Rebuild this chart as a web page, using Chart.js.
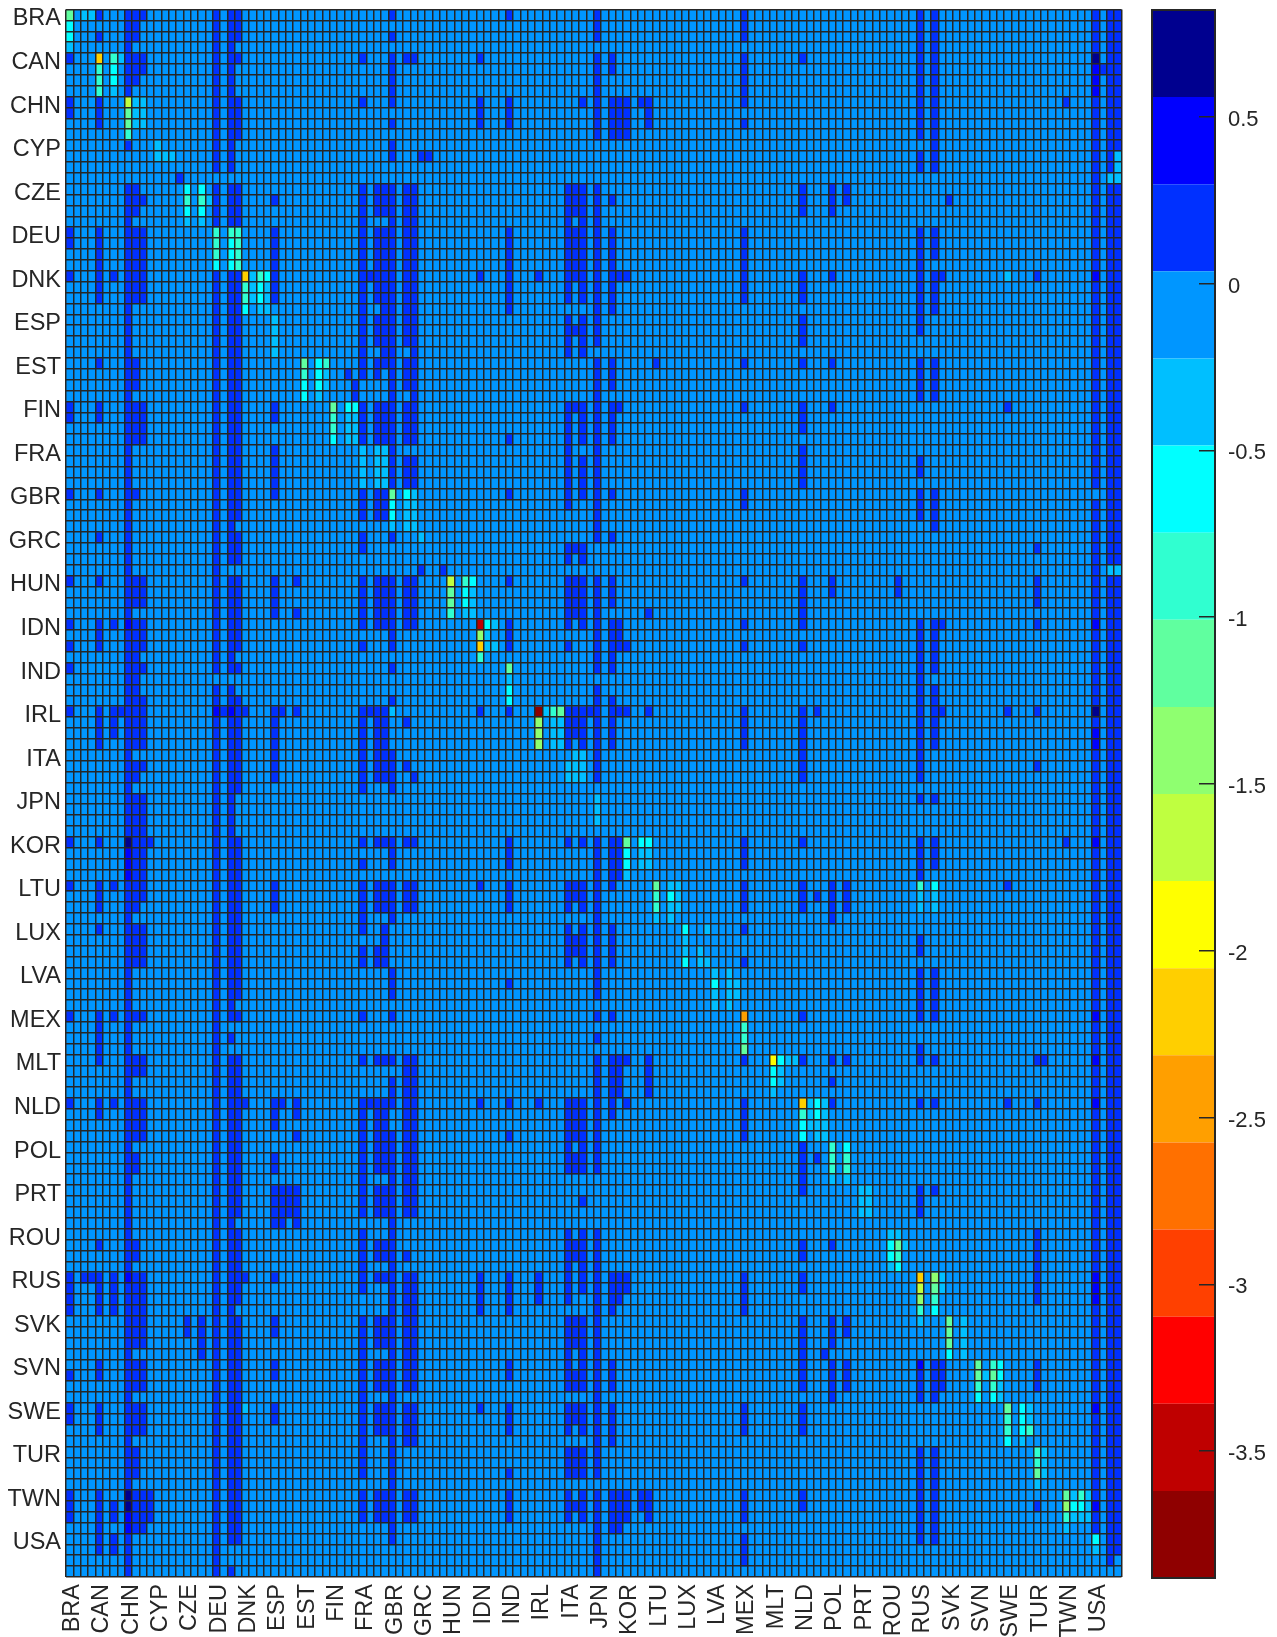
<!DOCTYPE html>
<html><head><meta charset="utf-8">
<style>html,body{margin:0;padding:0;background:#fff}canvas{position:absolute;top:0}</style>
<script src="https://cdn.jsdelivr.net/npm/chart.js@4"></script>
</head><body>
<canvas id="heat" style="left:0"></canvas>
<canvas id="bar" style="left:1130px"></canvas>
<script>
const categories=["BRA","CAN","CHN","CYP","CZE","DEU","DNK","ESP","EST","FIN","FRA","GBR","GRC","HUN","IDN","IND","IRL","ITA","JPN","KOR","LTU","LUX","LVA","MEX","MLT","NLD","POL","PRT","ROU","RUS","SVK","SVN","SWE","TUR","TWN","USA"];
const sectorsPerCountry=4;
const colorTicks=[0.5,0,-0.5,-1,-1.5,-2,-2.5,-3,-3.5];
const colorMin=-3.88, colorMax=0.82;
const bandColors=["#8f0000","#bf0000","#ff0000","#ff4000","#ff7000","#ff9f00","#ffcf00","#ffff00","#bfff40","#8fff70","#60ff9f","#30ffd0","#00ffff","#00bfff","#0096ff","#0030ff","#0000ff","#00008f"];
const baseValue=-0.1;
const positiveValue=0.15;
// columns holding a small positive value, one string per row
const positiveByRow=[
"4 8 9 10 20 22 23 44 60 72 92 116 118 140 142 143",
"8 9 20 22 23 72 92 116 118 140 142 143",
"4 8 9 20 22 23 44 72 92 116 118 140 142 143",
"8 20 22 116 118 140 142 143",
"0 8 9 10 20 22 23 40 44 46 47 56 72 74 92 100 116 118 142 143",
"8 9 10 20 22 44 72 74 92 116 118 141 142 143",
"8 9 20 22 44 72 92 116 118 142 143",
"8 20 22 44 72 92 116 118 142 143",
"0 4 20 22 23 40 44 56 60 70 72 74 75 76 78 79 92 116 118 136 140 142 143",
"0 4 20 22 23 56 60 72 74 75 76 79 116 118 140 142 143",
"4 20 22 23 44 56 60 72 74 75 76 79 92 116 118 140 142 143",
"20 22 23 72 74 75 76 116 118 140 142 143",
"8 20 22 44 118 140 142 143",
"20 22 44 48 49 116 118 140 142",
"20 22 116 118 140 142",
"15 140",
"8 9 20 22 23 40 42 43 44 46 47 68 69 70 72 100 104 106 140 142 143",
"8 9 10 20 22 23 28 40 42 43 44 46 47 68 69 70 72 74 100 104 106 120 140 142 143",
"8 9 20 22 23 40 42 43 44 46 47 68 69 70 72 100 104 140 142 143",
"8 20 22 23 40 44 46 47 68 70 72 140 142 143",
"0 4 8 9 10 28 40 42 43 44 46 47 60 68 69 70 72 74 92 116 118 140 142 143",
"0 4 8 9 10 28 40 42 43 44 46 47 60 68 69 70 72 74 92 116 118 140 142 143",
"4 8 9 10 28 40 42 43 44 46 47 60 68 69 70 72 74 92 116 118 140 142 143",
"4 8 9 10 28 40 42 43 44 46 47 60 68 69 70 72 74 92 116 140 142 143",
"0 4 6 8 9 10 20 22 23 28 40 41 42 43 44 46 47 56 60 64 68 69 70 72 74 75 76 92 100 104 116 118 119 132 142 143",
"4 8 9 10 20 22 23 28 40 42 43 44 46 47 60 68 70 72 74 92 100 116 118 140 142 143",
"4 8 9 10 20 22 23 28 40 42 43 44 46 47 60 68 70 72 74 92 100 116 118 140 142 143",
"8 20 22 23 40 43 44 46 47 60 72 74 116 118 140 142 143",
"8 20 22 23 40 42 43 44 46 47 68 70 72 100 116 140 142 143",
"8 20 22 23 40 42 43 44 46 47 68 69 70 72 100 116 140 142 143",
"8 20 22 23 40 42 43 44 46 47 68 70 72 100 140 142 143",
"8 20 22 23 40 43 44 47 68 70 140 142 143",
"4 8 9 20 22 23 40 42 43 44 46 47 72 74 80 92 100 104 116 118 140 142 143",
"8 9 20 22 23 38 40 42 44 46 47 72 74 116 118 140 142 143",
"8 9 20 22 23 39 44 46 47 72 74 116 118 140 142 143",
"8 20 22 23 39 44 47 72 116 118 140 142 143",
"0 4 8 9 10 20 22 23 28 40 42 43 44 46 47 68 69 70 72 74 75 92 100 104 128 140 142 143",
"0 4 8 9 10 20 22 23 28 40 42 43 44 46 47 68 70 72 74 100 140 142 143",
"8 9 10 20 22 23 40 42 43 44 46 47 68 70 72 74 100 140 142 143",
"8 9 10 20 22 23 40 42 43 44 46 47 60 68 70 72 74 140 142 143",
"8 20 22 23 28 44 68 72 100 140 142 143",
"8 20 22 23 28 44 46 47 68 70 72 100 116 140 142 143",
"8 20 22 23 28 44 46 47 68 70 72 100 116 140 142 143",
"8 20 22 23 28 44 46 47 68 70 72 100 140 142 143",
"0 4 8 9 20 22 23 28 40 42 43 60 68 70 72 74 92 116 118 142 143",
"8 20 22 23 40 42 43 68 72 92 116 118 140 142 143",
"8 20 22 23 40 42 43 72 116 118 140 142 143",
"8 20 22 72 118 140 142 143",
"4 8 20 22 23 40 44 72 74 140 142 143",
"8 20 22 23 40 68 69 70 132 140 142 143",
"8 20 22 23 68 70 140 142 143",
"8 20 48 51 140",
"0 4 8 9 10 20 22 23 28 31 40 42 43 44 46 47 60 68 69 70 72 74 92 100 104 113 132 140 142 143",
"8 9 10 20 22 23 28 40 42 43 44 46 47 68 69 70 72 74 100 104 113 132 140 142 143",
"8 9 10 20 22 23 28 40 42 43 44 46 47 68 69 70 72 74 100 132 140 142 143",
"8 20 22 23 28 31 40 42 43 44 46 47 68 69 70 72 79 100 140 142 143",
"0 4 6 9 10 20 22 23 40 42 43 44 46 47 60 68 70 72 74 75 92 100 116 118 119 132 142 143",
"4 8 9 10 20 22 23 44 60 72 74 75 116 118 140 142 143",
"0 4 8 9 10 20 22 23 40 44 60 68 72 74 75 76 92 100 116 118 140 142 143",
"8 9 20 22 72 74 116 118 140 142 143",
"0 8 9 10 20 22 23 44 72 74 116 118 140 142 143",
"8 9 116 140 142 143",
"8 9 20 22 72 116 118 140 142 143",
"8 9 10 20 22 23 44 72 74 116 118 140 142 143",
"0 4 6 7 8 9 10 21 23 24 28 29 31 40 41 42 43 56 60 68 69 70 71 72 74 75 76 79 92 100 102 116 118 119 128 132 142 143",
"4 6 8 9 10 20 22 23 28 40 42 43 46 68 69 70 72 74 92 100 116 118 140 142 143",
"4 6 8 9 10 20 22 23 28 40 42 43 68 69 70 72 74 92 100 116 118 142 143",
"4 8 9 10 20 22 23 28 40 42 43 68 70 72 74 92 100 116 118 142 143",
"8 20 22 23 28 40 42 43 44 72 100 116 140 142 143",
"8 9 10 20 22 23 28 40 42 43 44 46 72 100 116 132 140 142 143",
"8 9 20 22 23 28 40 42 43 44 47 72 100 116 140 142 143",
"8 20 22 23 40 44 140 142 143",
"8 9 10 20 22 116 118 140 142 143",
"8 9 10 20 22 140 142 143",
"8 9 10 20 22 140 142 143",
"8 9 10 20 22 140 142 143",
"0 4 9 10 11 20 22 23 40 42 43 44 46 47 60 68 70 72 74 75 92 100 116 118 136 142 143",
"9 10 20 22 23 44 60 72 74 75 92 116 118 140 142 143",
"9 10 20 22 23 40 44 60 72 74 75 92 116 118 140 142 143",
"9 10 20 22 23 72 74 75 116 140 142 143",
"0 4 6 8 9 10 20 22 23 28 40 42 43 44 46 47 56 60 68 69 70 72 74 92 100 104 106 128 140 142 143",
"4 8 9 10 20 22 23 28 40 42 43 44 46 47 60 68 69 70 72 92 100 102 104 106 140 142 143",
"4 8 9 20 22 23 28 40 42 43 44 46 47 60 68 70 72 92 100 104 106 140 142 143",
"8 20 22 23 40 44 72 104 140 142 143",
"4 8 9 10 20 22 23 40 43 68 70 72 74 92 140 142 143",
"8 9 10 20 22 23 43 68 69 70 72 74 116 140 142 143",
"8 9 10 20 22 23 40 42 43 68 69 70 72 74 116 140 142 143",
"8 9 10 20 22 23 40 42 43 68 70 72 74 92 140 142 143",
"8 20 22 23 44 72 116 118 140 142 143",
"8 20 22 23 44 60 72 116 118 140 142 143",
"8 20 22 23 44 72 116 118 140 142 143",
"8 20 22 116 118 140 142 143",
"0 4 6 8 9 10 20 22 23 40 44 72 74 100 116 118 142 143",
"4 8 20 140 142 143",
"4 8 20 22 72 140 142 143",
"4 8 20 116 140 142 143",
"4 8 9 10 20 22 23 40 42 43 44 46 47 72 74 75 76 79 92 100 104 106 116 118 132 133 142 143",
"8 9 10 20 22 23 46 47 72 74 75 79 140 142 143",
"8 20 22 23 44 46 47 72 74 75 79 104 140 142 143",
"8 20 22 23 44 46 47 72 74 75 79 140 142 143",
"0 4 6 8 9 10 20 22 23 24 28 29 31 40 41 42 43 44 46 47 56 60 64 68 69 70 72 74 76 92 104 116 118 128 132 142 143",
"4 8 9 10 20 22 23 28 31 40 42 43 46 47 68 69 70 72 74 92 140 142 143",
"8 9 10 20 22 23 28 40 42 43 46 47 68 69 70 72 92 140 142 143",
"8 9 10 20 22 23 31 40 42 43 44 46 47 60 68 69 70 72 92 140 142 143",
"8 20 22 23 40 42 43 44 46 47 68 70 72 100 140 142 143",
"8 9 20 22 23 28 40 42 43 44 46 47 68 69 70 72 100 102 140 142 143",
"8 9 20 22 23 28 40 42 43 44 46 47 68 69 70 72 100 140 142 143",
"8 20 22 23 40 44 46 47 100 140 142 143",
"8 20 22 23 28 29 30 31 40 42 43 44 46 47 100 116 118 140 142 143",
"8 20 22 23 28 29 30 31 40 42 43 44 46 47 70 116 140 142 143",
"8 20 22 23 28 29 30 31 40 42 43 44 46 47 116 140 142 143",
"8 20 22 28 29 31 44 140 142 143",
"8 20 22 23 40 44 68 70 72 132 140 142 143",
"4 8 9 20 22 23 40 42 43 44 68 69 70 72 100 104 132 140 142 143",
"8 9 20 22 23 40 42 43 44 46 68 69 70 72 100 132 140 142 143",
"8 20 22 23 40 44 68 70 72 132 140 142 143",
"0 2 3 4 6 9 10 20 22 23 24 28 40 42 43 44 46 47 56 60 64 68 70 72 74 75 76 92 100 132 142 143",
"0 4 6 8 9 10 20 22 23 40 44 46 47 56 60 64 68 70 72 74 75 76 92 100 132 142 143",
"0 4 6 8 9 10 20 22 23 44 46 47 56 60 64 68 72 74 75 92 132 142 143",
"0 4 6 8 9 10 20 22 44 46 47 56 60 72 74 92 140 142 143",
"8 9 10 16 18 20 22 23 28 40 42 43 44 46 47 68 69 70 72 100 104 106 140 142 143",
"8 9 10 16 18 20 22 23 28 40 42 43 44 46 47 68 69 70 72 100 104 106 140 142 143",
"8 9 10 18 20 22 23 40 42 43 44 46 47 68 69 70 72 100 104 140 142 143",
"8 18 20 22 23 40 44 46 47 68 70 72 100 103 140 142 143",
"4 8 9 10 20 22 23 28 40 42 43 44 46 47 60 68 70 72 74 100 104 106 118 119 132 140 142 143",
"0 4 8 9 10 20 22 23 28 40 42 43 44 46 47 60 68 69 70 72 74 100 104 106 116 118 119 132 140 142 143",
"8 9 10 20 22 23 40 42 43 44 46 47 68 69 70 72 74 100 104 106 116 118 119 132 140 142 143",
"8 20 22 23 40 44 72 104 116 118 140 142 143",
"0 4 8 9 10 20 22 23 28 40 42 43 44 46 47 56 60 68 69 70 72 74 92 100 142 143",
"0 4 8 9 10 20 22 23 28 40 42 43 44 46 47 60 68 69 70 72 74 92 100 140 142 143",
"4 8 9 10 20 22 23 40 42 43 44 46 47 60 68 70 72 74 92 100 140 142 143",
"8 20 22 23 40 44 46 47 72 74 140 142 143",
"8 9 20 22 23 40 44 68 69 70 72 116 118 140 142 143",
"8 9 20 22 23 40 44 68 69 70 72 116 118 140 142 143",
"8 9 20 22 23 40 44 60 68 69 70 72 116 118 140 142 143",
"8 20 22 23 44 116 118 140 142 143",
"0 4 9 10 11 20 22 23 40 42 43 44 46 47 60 68 70 72 74 75 76 78 79 92 100 116 118 140 142 143",
"0 4 6 9 10 11 20 22 23 40 42 43 44 46 47 60 68 69 70 72 74 75 76 78 79 92 100 116 118 132 142 143",
"0 4 6 9 10 11 20 22 23 40 42 43 44 46 47 60 68 70 72 74 75 76 79 92 116 118 140 142 143",
"4 9 10 20 22 23 44 72 74 75 116 118 140 142 143",
"4 6 8 20 22 23 44 72 92 116 118 142 143",
"4 6 8 20 72 92 142 143",
"8 20 72 92 142",
"8 20 22 72"
];
// [row, column] pairs of the stronger cells, one list per value
const cellsNear07=[[4,140],[64,140],[76,8],[136,8],[137,8]];
const cellsNear043=[[5,140],[6,140],[7,140],[24,140],[56,8],[56,140],[66,140],[67,140],[76,140],[92,140],[64,20],[64,22],[77,8],[78,8],[79,8],[116,8],[138,8],[139,8],[96,140],[100,140],[116,140],[117,140],[118,140],[128,140],[137,140],[124,116]];
const cellsNearMinus035=[[0,2],[0,3],[3,0],[4,7],[7,6],[8,9],[8,10],[9,9],[9,10],[10,9],[10,10],[12,12],[13,12],[13,13],[13,14],[17,19],[19,16],[19,18],[24,25],[25,25],[26,25],[25,27],[26,27],[27,26],[27,27],[28,28],[29,28],[30,28],[31,28],[33,35],[34,35],[35,34],[37,38],[37,39],[38,38],[38,39],[39,38],[39,39],[40,40],[40,42],[40,43],[41,40],[41,42],[41,43],[42,40],[42,42],[42,43],[43,40],[43,42],[43,43],[44,47],[45,46],[45,47],[46,46],[46,47],[47,44],[47,46],[47,47],[48,48],[53,55],[54,55],[55,54],[55,55],[56,58],[57,57],[58,57],[58,58],[61,60],[64,44],[64,65],[65,66],[65,67],[66,66],[66,67],[67,66],[67,67],[68,69],[68,70],[69,68],[69,69],[69,70],[70,68],[70,69],[70,70],[72,72],[73,72],[74,72],[77,78],[77,79],[78,78],[78,79],[79,76],[80,82],[80,83],[81,83],[82,82],[82,83],[83,80],[83,82],[84,87],[85,84],[86,84],[86,86],[87,86],[87,87],[88,88],[88,90],[89,90],[89,91],[90,88],[90,90],[90,91],[91,88],[91,90],[13,143],[14,143],[15,142],[15,143],[51,142],[51,143],[24,128],[128,24],[81,116],[81,118],[82,116],[82,118],[96,98],[96,99],[97,97],[98,97],[99,96],[100,101],[100,103],[101,101],[101,103],[102,101],[102,102],[102,103],[103,102],[103,103],[107,104],[107,106],[108,108],[108,109],[109,108],[109,109],[110,108],[110,109],[112,112],[112,113],[113,114],[115,112],[116,119],[117,119],[120,116],[120,122],[121,122],[122,122],[123,122],[125,125],[126,127],[127,127],[128,131],[129,131],[131,130],[132,133],[133,133],[134,133],[135,132],[136,137],[136,139],[137,139],[138,137],[138,138],[138,139],[139,136],[141,140]];
const cellsNearMinus06=[[1,0],[2,0],[5,6],[6,6],[16,16],[16,18],[18,16],[18,18],[21,22],[22,22],[23,20],[23,22],[24,27],[25,26],[26,26],[27,24],[32,34],[33,34],[34,32],[34,34],[35,32],[36,38],[36,39],[39,36],[44,46],[45,44],[46,44],[52,55],[53,54],[54,54],[56,57],[62,60],[63,60],[76,78],[76,79],[77,76],[78,76],[81,82],[84,84],[87,84],[89,88],[80,118],[97,96],[98,96],[96,97],[100,102],[101,102],[102,100],[103,100],[104,106],[113,112],[114,112],[115,113],[119,118],[123,120],[124,127],[125,127],[127,124],[127,126],[128,130],[129,130],[130,130],[131,128],[137,137],[137,138],[140,140]];
const cellsNearMinus085=[[4,6],[5,4],[6,4],[7,4],[11,8],[17,16],[17,18],[20,20],[20,22],[20,23],[21,20],[21,23],[22,20],[22,23],[23,23],[24,26],[25,24],[26,24],[32,35],[33,32],[37,36],[38,36],[52,54],[55,52],[59,56],[64,66],[81,80],[82,80],[93,92],[94,92],[80,116],[101,100],[104,104],[105,104],[105,106],[106,104],[106,106],[114,113],[118,118],[119,116],[124,126],[126,124],[126,126],[129,128],[130,128],[130,131],[132,132],[133,132],[136,138],[138,136]];
const cellsNearMinus115=[[0,0],[9,8],[10,8],[32,32],[36,36],[44,44],[53,52],[54,52],[60,60],[64,67],[76,76],[80,80],[95,92],[113,113],[117,118],[120,120],[121,120],[122,120],[124,124],[125,124],[125,126],[128,128],[134,132],[136,136]];
const cellsNearMinus14=[[57,56],[65,64],[66,64],[67,64],[116,118],[118,116],[137,136]];
const cellsNearMinus165=[[8,8],[52,52],[117,116]];
const cellsNearMinus19=[[96,96]];
const cellsNearMinus22=[[4,4],[24,24],[58,56],[100,100],[116,116]];
const cellsNearMinus24=[[92,92]];
const cellsNearMinus35=[[56,56]];
const cellsNearMinus375=[[64,64]];

const n=categories.length*sectorsPerCountry;
const strong=[[0.7,cellsNear07],[0.43,cellsNear043],[-0.35,cellsNearMinus035],[-0.6,cellsNearMinus06],[-0.85,cellsNearMinus085],[-1.15,cellsNearMinus115],[-1.4,cellsNearMinus14],[-1.65,cellsNearMinus165],[-1.9,cellsNearMinus19],[-2.2,cellsNearMinus22],[-2.4,cellsNearMinus24],[-3.5,cellsNearMinus35],[-3.75,cellsNearMinus375]];
const matrix=positiveByRow.map(s=>{const r=new Array(n).fill(baseValue);s.split(" ").forEach(c=>r[+c]=positiveValue);return r;});
strong.forEach(([v,list])=>list.forEach(([r,c])=>matrix[r][c]=v));
const step=(colorMax-colorMin)/bandColors.length;
const colorOf=v=>bandColors[Math.max(0,Math.min(bandColors.length-1,Math.floor((v-colorMin)/step)))];
const ink="#262626", font="'Liberation Sans',Arial,sans-serif", fs=23.5;
const H=1637;
const noPad=s=>{s.paddingTop=0;s.paddingBottom=0;s.paddingLeft=0;s.paddingRight=0;};

function size(id,w,h){const c=document.getElementById(id);c.width=w;c.height=h;c.style.width=w+"px";c.style.height=h+"px";return c;}

new Chart(size("heat",1125,H),{
  type:"bar",
  data:{
    labels:Array.from({length:n},(_,i)=>i),
    datasets:matrix.map((row,r)=>({
      data:row.map(()=>[r,r+1]),
      backgroundColor:row.map(colorOf),
      borderWidth:0,inflateAmount:0.3,
      barPercentage:1,categoryPercentage:1,grouped:false
    }))
  },
  options:{
    responsive:false,animation:false,events:[],
    layout:{padding:{top:9.5,right:3.5,bottom:0,left:0}},
    plugins:{legend:{display:false},tooltip:{enabled:false}},
    scales:{
      x:{
        type:"category",offset:true,
        grid:{display:true,offset:true,z:1,color:ink,lineWidth:1.5,drawTicks:false},border:{display:false},
        afterFit:s=>{s.height=60;noPad(s);},
        ticks:{autoSkip:false,maxRotation:90,minRotation:90,padding:7,labelOffset:3,color:ink,font:{family:font,size:fs},
          callback:(v,i)=>i%sectorsPerCountry===0?categories[i/sectorsPerCountry]:""}
      },
      y:{
        type:"linear",reverse:true,min:0,max:n,
        grid:{display:false,drawTicks:false},border:{display:false},
        afterFit:s=>{s.width=66;noPad(s);},
        afterBuildTicks:s=>{s.ticks=categories.map((c,i)=>({value:i*sectorsPerCountry+0.5}))},
        ticks:{autoSkip:false,padding:5,labelOffset:4,color:ink,font:{family:font,size:fs},
          callback:v=>categories[Math.round((v-0.5)/sectorsPerCountry)]}
      },
      rowLines:{
        type:"linear",position:"left",reverse:true,min:0,max:n,
        grid:{display:true,z:1,color:ink,lineWidth:1.5,drawTicks:false},border:{display:false},
        afterFit:s=>{s.width=0;noPad(s);},
        afterBuildTicks:s=>{s.ticks=matrix.concat([0]).map((_,i)=>({value:i}))},
        ticks:{display:false,autoSkip:false}
      }
    }
  }
});

new Chart(size("bar",147,H),{
  type:"bar",
  data:{labels:["c"],datasets:bandColors.map((col,i)=>({
    data:[[colorMin+i*step,colorMin+(i+1)*step]],
    backgroundColor:col,borderWidth:0,inflateAmount:0,barPercentage:1,categoryPercentage:1,grouped:false
  }))},
  options:{
    responsive:false,animation:false,events:[],
    layout:{padding:{top:10,bottom:59,left:22,right:0}},
    plugins:{legend:{display:false},tooltip:{enabled:false}},
    scales:{
      x:{display:false},
      y:{
        position:"right",min:colorMin,max:colorMax,
        grid:{display:true,drawOnChartArea:false,drawTicks:true,tickLength:-16,z:1,color:ink,lineWidth:1.5},
        border:{display:false},
        afterFit:s=>{s.width=62;noPad(s);},
        afterBuildTicks:s=>{s.ticks=colorTicks.map(v=>({value:v}))},
        ticks:{padding:29,labelOffset:3,color:ink,font:{family:font,size:22},callback:v=>String(v)}
      }
    }
  },
  plugins:[{id:"frame",afterDraw(c){const a=c.chartArea,x=c.ctx;x.save();x.strokeStyle=ink;x.lineWidth=2;x.strokeRect(a.left,a.top,a.right-a.left,a.bottom-a.top);x.restore();}}]
});
</script>
</body></html>
